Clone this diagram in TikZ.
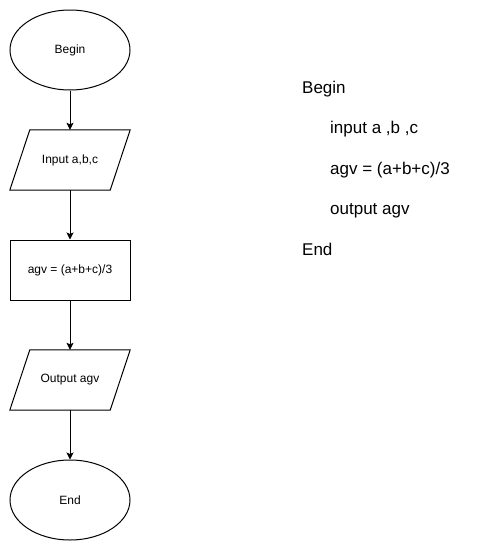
\documentclass[tikz,border=0pt]{standalone}
\usepackage{fontspec}
\setmainfont{Liberation Sans}
\usetikzlibrary{shapes.geometric,arrows.meta}
\begin{document}
\begin{tikzpicture}[x=1pt,y=-1pt,
  every node/.style={font=\fontsize{12}{14}\selectfont, inner sep=0pt},
  terminal/.style={ellipse, draw, line width=1pt, minimum width=120pt, minimum height=80pt},
  process/.style={rectangle, draw, line width=1pt, minimum width=120pt, minimum height=60pt},
  iobox/.style={rectangle, minimum width=120pt, minimum height=60pt},
  flow/.style={line width=1pt, -{Stealth[length=7pt,width=7pt,inset=1.5pt]}},
  code/.style={font=\fontsize{17}{20}\selectfont, anchor=base west}]
\useasboundingbox (0,0) rectangle (501,546);

% flowchart
\node[terminal] (begin) at (70,50) {Begin};
\node[iobox] (input) at (70,160) {Input a,b,c};
\node[process] (calc) at (70,270) {agv = (a+b+c)/3};
\node[iobox] (output) at (70,380) {Output agv};
\node[terminal] (end) at (70,500) {End};

% parallelogram outlines of the input/output steps
\foreach \n in {input,output}
  \draw[line width=1pt] ([xshift=20pt]\n.north west) -- (\n.north east)
    -- ([xshift=-20pt]\n.south east) -- (\n.south west) -- cycle;

\draw[flow] (begin) -- (input.north);
\draw[flow] (input.south) -- (calc);
\draw[flow] (calc) -- (output.north);
\draw[flow] (output.south) -- (end);

% pseudocode
\node[code] (pbegin) at (302,93) {Begin};
\node[code] (pinput) at (330,133.5) {input a ,b ,c};
\node[code] (pcalc) at (330,174) {agv = (a+b+c)/3};
\node[code] (pout) at (330,214.5) {output agv};
\node[code] (pend) at (302,255) {End};
\end{tikzpicture}
\end{document}
